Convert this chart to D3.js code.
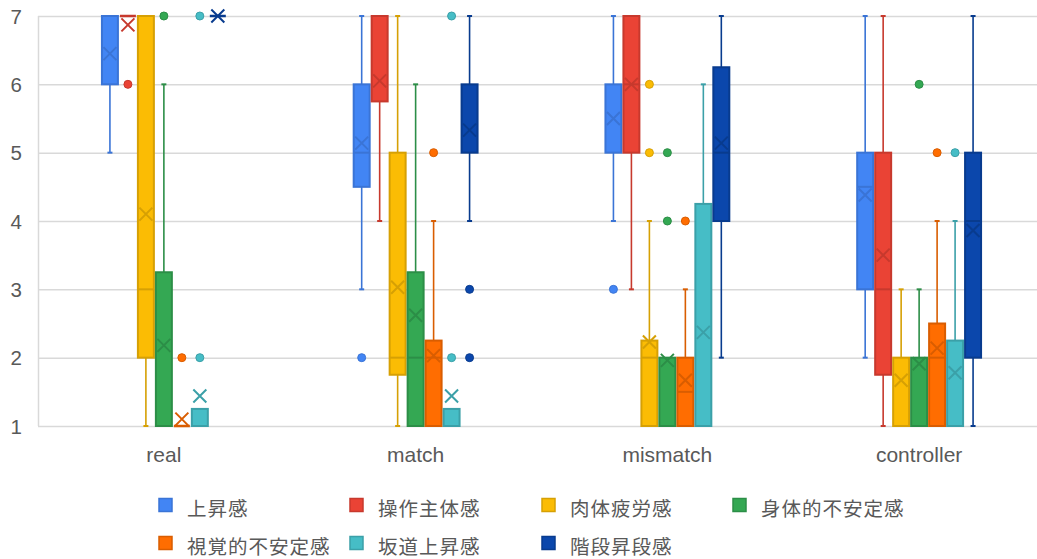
<!DOCTYPE html>
<html>
<head>
<meta charset="utf-8">
<script src="https://cdn.jsdelivr.net/npm/d3@7"></script>
<style>
  html, body { margin: 0; padding: 0; background: #fff; }
  svg { display: block; }
</style>
</head>
<body>
<svg id="chart" width="1037" height="559"></svg>
<script>
// Conditions on the x axis
const categories = ["real", "match", "mismatch", "controller"];

// Questionnaire items (one box per item in every condition)
const seriesNames = ["上昇感", "操作主体感", "肉体疲労感", "身体的不安定感", "視覚的不安定感", "坂道上昇感", "階段昇段感"];

// Rows = item, columns = condition (real, match, mismatch, controller)
const minVals = [
  [5, 3, 4, 2],
  [7, 4, 3, 1],
  [1, 1, 1, 1],
  [1, 1, 1, 1],
  [1, 1, 1, 1],
  [1, 1, 1, 1],
  [7, 4, 2, 1]
];
const q1Vals = [
  [6, 4.5, 5, 3],
  [7, 5.75, 5, 1.75],
  [2, 1.75, 1, 1],
  [1, 1, 1, 1],
  [1, 1, 1, 1],
  [1, 1, 1, 1],
  [7, 5, 4, 2]
];
const medianVals = [
  [7, 5, 5, 4.5],
  [7, 7, 6, 3],
  [3, 2, 2, 1],
  [1, 2, 2, 1],
  [1, 2, 1.5, 2],
  [1, 1, 1, 1],
  [7, 5, 5, 4]
];
const q3Vals = [
  [7, 6, 6, 5],
  [7, 7, 7, 5],
  [7, 5, 2.25, 2],
  [3.25, 3.25, 2, 2],
  [1, 2.25, 2, 2.5],
  [1.25, 1.25, 4.25, 2.25],
  [7, 6, 6.25, 5]
];
const maxVals = [
  [7, 7, 7, 7],
  [7, 7, 7, 7],
  [7, 7, 4, 3],
  [6, 6, 2, 3],
  [1, 4, 3, 4],
  [1.25, 1.25, 6, 4],
  [7, 7, 7, 7]
];
const meanVals = [
  [6.45, 5.14, 5.5, 4.38],
  [6.87, 6.05, 6.0, 3.5],
  [4.1, 3.03, 2.23, 1.67],
  [2.18, 2.62, 1.96, 1.91],
  [1.1, 2.03, 1.67, 2.14],
  [1.44, 1.44, 2.37, 1.78],
  [7, 5.33, 5.14, 3.86]
];
const outlierVals = [
  [[], [2], [3], []],
  [[6], [], [], []],
  [[], [], [6, 5], []],
  [[7], [], [5, 4], [6]],
  [[2], [5], [4], [5]],
  [[2, 7], [2, 7], [], [5]],
  [[], [3, 2], [], []]
];
const yTicks = [1, 2, 3, 4, 5, 6, 7];

// Fill and outline colours per item
const fillColors   = ["#4285F4", "#EA4335", "#FBBC04", "#34A853", "#FF6D01", "#46BDC6", "#0B47AC"];
const strokeColors = ["#3A74D6", "#C7392D", "#D6A004", "#2C8E47", "#D95D01", "#3BA0A8", "#083B8E"];

const svg = d3.select("#chart");
const margin = { left: 38, right: -8, top: 16, bottom: 133 };
const W = 1037, H = 559;
const plotLeft = margin.left, plotRight = W - margin.right;
const plotTop = margin.top, plotBottom = H - margin.bottom;

const x = d3.scaleBand().domain(categories).range([plotLeft, plotRight]).paddingInner(0).paddingOuter(0);
const bw = x.bandwidth();
const xs = d3.scaleBand().domain(d3.range(seriesNames.length)).range([bw * 0.25, bw * 0.75]).padding(0);
const y = d3.scaleLinear().domain([1, 7]).range([plotBottom, plotTop]);

// Gridlines
svg.append("g")
  .attr("transform", `translate(${plotLeft},0)`)
  .call(d3.axisLeft(y).tickValues(yTicks).tickSize(-(W - plotLeft)).tickFormat(""))
  .call(g => g.select(".domain").remove())
  .call(g => g.selectAll("line").attr("stroke", "#d9d9d9").attr("stroke-width", 1.5));

// Left axis line
svg.append("line")
  .attr("x1", plotLeft + 0.5).attr("x2", plotLeft + 0.5)
  .attr("y1", y(7)).attr("y2", y(1))
  .attr("stroke", "#d9d9d9").attr("stroke-width", 1.5);

// Y tick labels
svg.append("g")
  .attr("transform", `translate(${plotLeft - 13},0)`)
  .call(d3.axisLeft(y).tickValues(yTicks).tickSize(0).tickFormat(d3.format("d")))
  .call(g => g.select(".domain").remove())
  .call(g => g.selectAll("text")
    .attr("font-family", "Arial, 'Liberation Sans', sans-serif")
    .attr("font-size", 20.5).attr("fill", "#595959").attr("dy", "0.35em"));

// X labels
svg.append("g")
  .attr("transform", `translate(0,${plotBottom + 33})`)
  .call(d3.axisBottom(x).tickSize(0))
  .call(g => g.select(".domain").remove())
  .call(g => g.selectAll("text")
    .attr("font-family", "Arial, 'Liberation Sans', sans-serif")
    .attr("font-size", 21).attr("fill", "#595959").attr("dy", "0"));

// Boxes
const boxes = [];
seriesNames.forEach((name, s) => {
  categories.forEach((cat, c) => {
    boxes.push({
      s, cat,
      min: minVals[s][c], q1: q1Vals[s][c], med: medianVals[s][c],
      q3: q3Vals[s][c], max: maxVals[s][c], mean: meanVals[s][c],
      outliers: outlierVals[s][c]
    });
  });
});

const boxW = xs.bandwidth();
const capW = 5;
const g = svg.append("g");

boxes.forEach(b => {
  const cx = x(b.cat) + xs(b.s) + boxW / 2;
  const col = fillColors[b.s], dark = strokeColors[b.s];
  const grp = g.append("g");

  // whiskers
  if (b.max > b.q3) {
    grp.append("line").attr("x1", cx).attr("x2", cx).attr("y1", y(b.q3)).attr("y2", y(b.max))
      .attr("stroke", dark).attr("stroke-width", 1.6);
    grp.append("line").attr("x1", cx - capW / 2).attr("x2", cx + capW / 2).attr("y1", y(b.max)).attr("y2", y(b.max))
      .attr("stroke", dark).attr("stroke-width", 2);
  }
  if (b.min < b.q1) {
    grp.append("line").attr("x1", cx).attr("x2", cx).attr("y1", y(b.q1)).attr("y2", y(b.min))
      .attr("stroke", dark).attr("stroke-width", 1.6);
    grp.append("line").attr("x1", cx - capW / 2).attr("x2", cx + capW / 2).attr("y1", y(b.min)).attr("y2", y(b.min))
      .attr("stroke", dark).attr("stroke-width", 2);
  }

  // box
  const top = y(b.q3), bot = y(b.q1);
  if (bot - top > 0.5) {
    grp.append("rect")
      .attr("x", cx - boxW / 2 + 1).attr("y", top)
      .attr("width", boxW - 2).attr("height", bot - top)
      .attr("fill", col).attr("stroke", dark).attr("stroke-width", 2);
    if (b.med > b.q1 && b.med < b.q3) {
      grp.append("line").attr("x1", cx - boxW / 2 + 1).attr("x2", cx + boxW / 2 - 1)
        .attr("y1", y(b.med)).attr("y2", y(b.med))
        .attr("stroke", dark).attr("stroke-width", 2);
    }
  } else {
    grp.append("line").attr("x1", cx - boxW / 2 + 1).attr("x2", cx + boxW / 2 - 1)
      .attr("y1", top).attr("y2", top)
      .attr("stroke", dark).attr("stroke-width", 2.5);
  }

  // mean marker
  const m = 6.5, my = y(b.mean);
  grp.append("path")
    .attr("d", `M${cx - m},${my - m}L${cx + m},${my + m}M${cx - m},${my + m}L${cx + m},${my - m}`)
    .attr("stroke", dark).attr("stroke-width", 2).attr("fill", "none");

  // outliers
  b.outliers.forEach(v => {
    grp.append("circle").attr("cx", cx).attr("cy", y(v)).attr("r", 4)
      .attr("fill", col).attr("stroke", dark).attr("stroke-width", 1);
  });
});

// Legend
const legendCols = [159, 350, 542, 733];
const legendRows = [505, 543];
const legend = svg.append("g");
seriesNames.forEach((name, i) => {
  const lx = legendCols[i % 4], ly = legendRows[Math.floor(i / 4)];
  legend.append("rect")
    .attr("x", lx).attr("y", ly - 6.5).attr("width", 13).attr("height", 13)
    .attr("fill", fillColors[i]).attr("stroke", strokeColors[i]).attr("stroke-width", 1.5);
  legend.append("text")
    .attr("x", lx + 28).attr("y", ly + 2)
    .attr("dominant-baseline", "central")
    .attr("font-family", "'Noto Sans CJK JP', sans-serif")
    .attr("font-size", 19.5).attr("letter-spacing", 1).attr("fill", "#595959")
    .text(name);
});
</script>
</body>
</html>
